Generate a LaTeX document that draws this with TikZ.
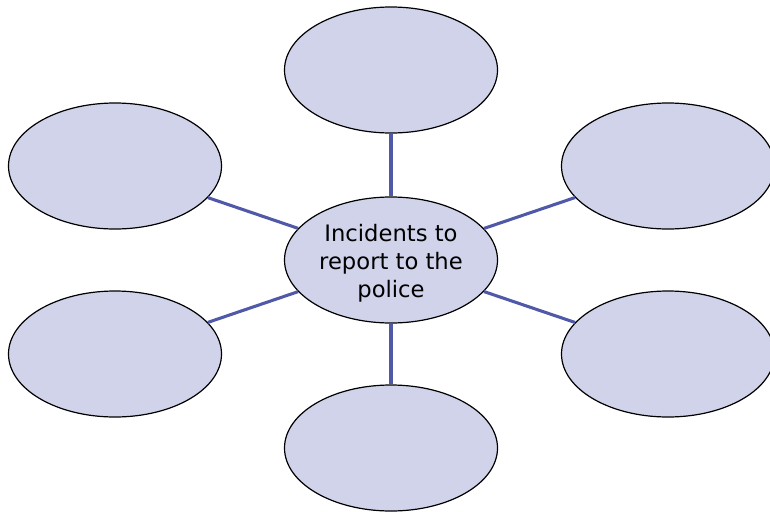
\documentclass[tikz,border=0pt]{standalone}
\usepackage{fontspec}
\setmainfont{DejaVu Sans}
\usetikzlibrary{shapes.geometric}
\definecolor{bubblefill}{HTML}{D0D3EA}
\definecolor{spokeblue}{HTML}{5058A8}
\begin{document}
\begin{tikzpicture}[x=0.75pt,y=-0.75pt,
  bubble/.style={ellipse,draw=black,line width=0.9pt,fill=bubblefill,
    minimum width=159.75pt,minimum height=94.5pt,inner sep=0pt},
  hubtext/.style={align=center,inner sep=0pt,font=\fontsize{17pt}{21pt}\selectfont},
  spoke/.style={draw=spokeblue,line width=2.3pt}]
\useasboundingbox (0,0) rectangle (770,511);
% centre bubble and the six surrounding bubbles
\node[bubble] (c)  at (391,260) {};
\node[hubtext] (ctext) at (391,263) {Incidents to\\report to the\\police};
\node[bubble] (n)  at (391,70)  {};
\node[bubble] (nw) at (115,166) {};
\node[bubble] (ne) at (668,166) {};
\node[bubble] (sw) at (115,354) {};
\node[bubble] (se) at (668,354) {};
\node[bubble] (s)  at (391,448) {};
% spokes from the centre
\foreach \t in {n,nw,ne,sw,se,s}
  \draw[spoke] (c) -- (\t);
\end{tikzpicture}
\end{document}
